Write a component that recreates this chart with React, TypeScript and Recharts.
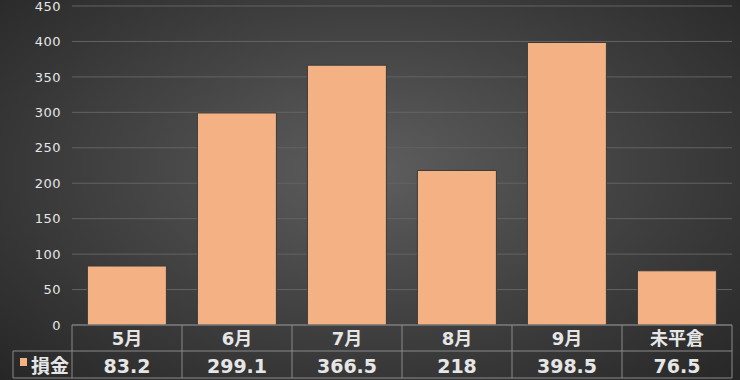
import React from "react";
import { BarChart, Bar, XAxis, YAxis, CartesianGrid } from "recharts";

const categories = ["5月", "6月", "7月", "8月", "9月", "未平倉"];
const values = [83.2, 299.1, 366.5, 218, 398.5, 76.5];
const valueLabels = ["83.2", "299.1", "366.5", "218", "398.5", "76.5"];
const seriesName = "損金";
const yTicks = [0, 50, 100, 150, 200, 250, 300, 350, 400, 450];

const data = categories.map((c, i) => ({ name: c, value: values[i] }));

const W = 740;
const H = 380;
const LEFT = 72;
const RIGHT = 8;
const TOP = 6;
const BOTTOM = 55;
const colW = (W - LEFT - RIGHT) / categories.length;
const BAR = "#F4B183";
const LINE = "#8a8a8a";
const TXT = "#e6e6e6";
const FONT = "'DejaVu Sans', 'Noto Sans CJK JP', sans-serif";

const TableTick = (props: any) => {
  const { x, payload, index } = props;
  const top = H - BOTTOM;
  const mid = top + 26;
  const bot = H - 2;
  const l = x - colW / 2;
  const r = x + colW / 2;
  return (
    <g>
      <line x1={l} y1={top} x2={r} y2={top} stroke={LINE} />
      <line x1={l} y1={mid} x2={r} y2={mid} stroke={LINE} />
      <line x1={l} y1={bot} x2={r} y2={bot} stroke={LINE} />
      <line x1={r} y1={top} x2={r} y2={bot} stroke={LINE} />
      {index === 0 && (
        <g>
          <line x1={l} y1={top} x2={l} y2={bot} stroke={LINE} />
          <line x1={13} y1={mid} x2={l} y2={mid} stroke={LINE} />
          <line x1={13} y1={bot} x2={l} y2={bot} stroke={LINE} />
          <line x1={13} y1={mid} x2={13} y2={bot} stroke={LINE} />
          <rect x={20} y={358} width={7} height={8} fill={BAR} />
          <text x={31} y={373} fill={TXT} fontSize={19} fontWeight={700} fontFamily={FONT}>
            {seriesName}
          </text>
        </g>
      )}
      <text x={x} y={top + 20} textAnchor="middle" fill={TXT} fontSize={18} fontWeight={700} fontFamily={FONT}>
        {payload.value}
      </text>
      <text x={x} y={mid + 22} textAnchor="middle" fill={TXT} fontSize={19} fontWeight={700} fontFamily={FONT}>
        {valueLabels[index]}
      </text>
    </g>
  );
};

export default function App() {
  return (
    <div
      style={{
        width: W,
        height: H,
        background: "radial-gradient(ellipse farthest-corner at 50% 45%, #5e5e5e 0%, #444 45%, #262626 100%)",
        overflow: "hidden",
      }}
    >
      <style>{"body{margin:0}"}</style>
      <BarChart width={W} height={H} data={data} margin={{ top: TOP, right: RIGHT, bottom: 0, left: 0 }} barCategoryGap="14%">
        <CartesianGrid horizontal vertical={false} stroke="#636363" />
        <YAxis
          width={LEFT}
          domain={[0, 450]}
          ticks={yTicks}
          interval={0}
          axisLine={false}
          tickLine={false}
          tickMargin={5}
          tick={{ fill: TXT, fontSize: 13, fontFamily: FONT, letterSpacing: 0.5 }}
        />
        <XAxis dataKey="name" height={BOTTOM} axisLine={false} tickLine={false} interval={0} tick={<TableTick />} />
        <Bar dataKey="value" fill={BAR} stroke="#3a3a3a" strokeWidth={1} isAnimationActive={false} />
      </BarChart>
    </div>
  );
}
